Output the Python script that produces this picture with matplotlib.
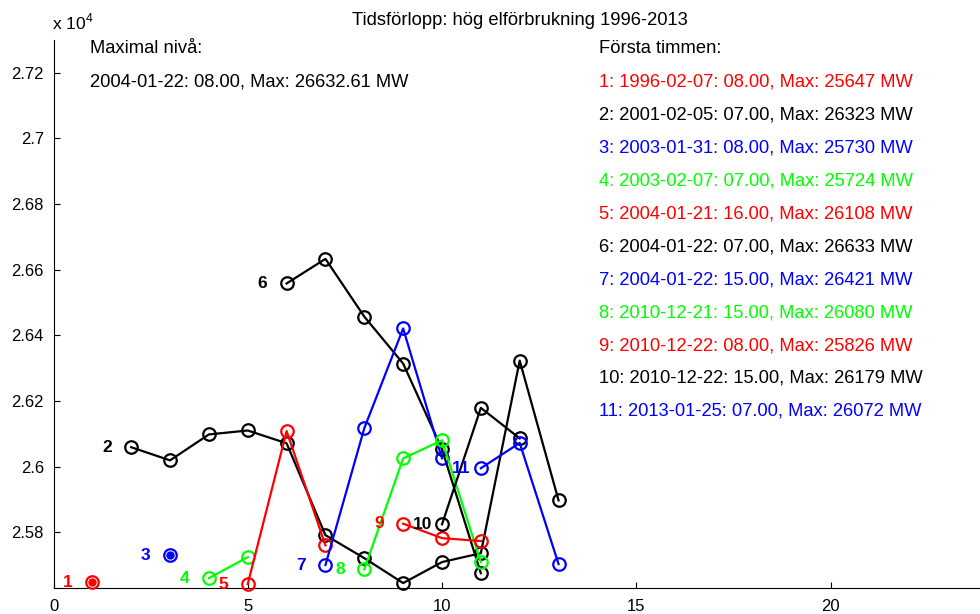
import matplotlib
matplotlib.use("Agg")
import matplotlib.pyplot as plt
from matplotlib.ticker import FuncFormatter

plt.rcParams['font.family'] = ['Liberation Sans', 'DejaVu Sans']
plt.rcParams['mathtext.fontset'] = 'custom'
plt.rcParams['mathtext.rm'] = 'Liberation Sans'

# Effekt (MW) per timme for de 11 tillfallena, x = startposition + timme
start_x = [1, 2, 3, 4, 5, 6, 7, 8, 9, 10, 11]
s1 = [25647]
s2 = [26059, 26019, 26098, 26110, 26071, 25791, 25721, 25645, 25709, 25736, 26323, 25897]
s3 = [25730]
s4 = [25660, 25724]
s5 = [25642, 26108, 25760]
s6 = [26558, 26633, 26457, 26314, 26053, 25675]
s7 = [25700, 26117, 26421, 26025]
s8 = [25687, 26025, 26080, 25709]
s9 = [25826, 25782, 25773]
s10 = [25824, 26179, 26086]
s11 = [25995, 26072, 25703]
series = [s1, s2, s3, s4, s5, s6, s7, s8, s9, s10, s11]

colors = ['#ff0000', '#000000', '#0000ff', '#00ff00']

legend_lines = [
    '1: 1996-02-07: 08.00, Max: 25647 MW',
    '2: 2001-02-05: 07.00, Max: 26323 MW',
    '3: 2003-01-31: 08.00, Max: 25730 MW',
    '4: 2003-02-07: 07.00, Max: 25724 MW',
    '5: 2004-01-21: 16.00, Max: 26108 MW',
    '6: 2004-01-22: 07.00, Max: 26633 MW',
    '7: 2004-01-22: 15.00, Max: 26421 MW',
    '8: 2010-12-21: 15.00, Max: 26080 MW',
    '9: 2010-12-22: 08.00, Max: 25826 MW',
    '10: 2010-12-22: 15.00, Max: 26179 MW',
    '11: 2013-01-25: 07.00, Max: 26072 MW',
]
max_text = ['Maximal nivå:', '2004-01-22: 08.00, Max: 26632.61 MW']

fs = 13.2

fig = plt.figure(figsize=(9.8, 6.14), dpi=100)
ax = fig.add_axes([53.5 / 980, 26 / 614, 932.4 / 980, 548 / 614])

for i, vals in enumerate(series):
    c = colors[i % 4]
    xs = [start_x[i] + k for k in range(len(vals))]
    ax.plot(xs, vals, '-o', color=c, lw=1.6, ms=9, mfc='none', mew=1.6,
            clip_on=False, zorder=3)
    if len(vals) == 1:
        ax.plot(xs, vals, 'o', color=c, ms=5, clip_on=False, zorder=3)
    ax.text(xs[0] - 0.75, vals[0], str(i + 1), color=c, fontsize=12.5,
            fontweight='bold', ha='left', va='center')

ax.set_xlim(0, 24)
ax.set_ylim(25630, 27300)
ax.set_xticks([0, 5, 10, 15, 20])
ax.set_yticks([25800, 26000, 26200, 26400, 26600, 26800, 27000, 27200])
ax.yaxis.set_major_formatter(FuncFormatter(lambda v, p: '%g' % (v / 1e4)))
ax.tick_params(direction='in', length=4, width=0.8, labelsize=12, pad=7)
ax.tick_params(axis='x', pad=8)
ax.spines['top'].set_visible(False)
ax.spines['right'].set_visible(False)

ax.set_title('Tidsförlopp: hög elförbrukning 1996-2013', fontsize=fs, pad=11)
fig.text(52 / 980, 1 - 29 / 614, r'x 10$^{4}$', fontsize=12.5, ha='left', va='baseline')

# Textrutor
ax.text(0.95, 27273, max_text[0], fontsize=fs, va='center')
ax.text(0.95, 27173, max_text[1], fontsize=fs, va='center')
ax.text(14.05, 27273, 'Första timmen:', fontsize=fs, va='center')
for i, t in enumerate(legend_lines):
    ax.text(14.05, 27173 - 100.5 * i, t, color=colors[i % 4], fontsize=fs, va='center')

fig.savefig('out.png', dpi=100)
